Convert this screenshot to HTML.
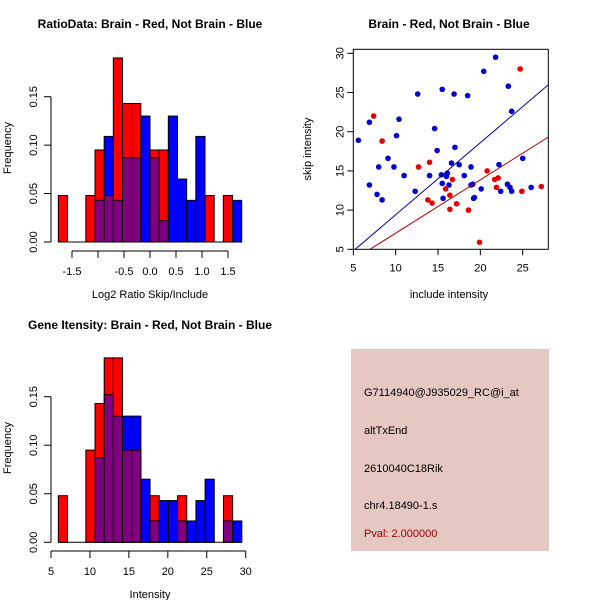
<!DOCTYPE html>
<html><head><meta charset="utf-8"><style>
body{margin:0;background:#fff}
svg{display:block;font-family:"Liberation Sans",sans-serif}
</style></head><body>
<svg id="c" width="600" height="600" viewBox="0 0 600 600">
<rect width="600" height="600" fill="#fff"/>
</svg>
<script>
// ---- Data ----
const ratioBinStart = -1.763, ratioBinWidth = 0.1763;
const ratioRed  = [0.048,0,0,0.048,0.095,0.048,0.19,0.143,0.143,0,0.095,0.095,0,0,0,0,0.048,0,0.048,0];
const ratioBlue = [0,0,0,0,0.043,0.109,0.043,0.087,0.087,0.130,0.087,0.022,0.130,0.065,0.043,0.109,0,0,0,0.043];
const ratioXTicks = [-1.5,-1.0,-0.5,0,0.5,1.0,1.5];
const ratioXLabels = ["-1.5","","-0.5","0.0","0.5","1.0","1.5"];
const freqTicks = [0,0.05,0.10,0.15];
const freqLabels = ["0.00","0.05","0.10","0.15"];

const intBinStart = 5.94, intBinWidth = 1.178;
const intRed  = [0.048,0,0,0.095,0.143,0.19,0.19,0.095,0.095,0,0.048,0,0,0.048,0,0,0,0,0.048,0];
const intBlue = [0,0,0,0,0.087,0.152,0.130,0.130,0.130,0.065,0.022,0.043,0.043,0.022,0.022,0.043,0.065,0,0.022,0.022];
const intXTicks = [5,10,15,20,25,30];

const blueX = [5.6,6.9,6.9,8.0,7.8,8.4,9.1,9.8,10.1,10.4,11.0,12.3,12.6,14.0,14.6,14.9,15.5,15.4,15.5,15.6,16.0,16.1,16.3,16.6,16.9,17.0,17.5,18.1,18.5,18.9,19.1,19.2,19.3,18.9,20.1,20.4,21.8,22.2,22.4,23.3,23.2,23.5,23.7,23.7,25.0,26.0];
const blueY = [18.9,21.2,13.2,15.5,12.0,11.3,16.6,15.5,19.5,21.6,14.4,12.4,24.8,14.4,20.4,17.6,25.4,14.5,13.4,11.5,14.3,14.7,13.2,16.0,24.8,18.0,15.8,14.4,24.6,15.5,13.3,11.5,11.6,13.2,12.7,27.7,29.5,15.8,12.4,25.8,13.3,12.9,12.4,22.6,16.6,12.9];
const redX = [7.4,8.4,12.7,14.0,13.8,14.3,15.9,16.4,16.7,16.4,17.2,18.6,19.9,20.8,21.7,22.1,21.9,24.7,24.9,27.2];
const redY = [22.0,18.8,15.5,16.1,11.3,10.9,12.7,11.9,13.9,10.1,10.8,10.0,5.9,15.0,13.9,14.1,12.9,28.0,12.4,13.0];
const blueFit = [0.2,0.92];  // intercept, slope
const redFit = [0.26,0.68];
const scatXTicks = [5,10,15,20,25];
const scatYTicks = [5,10,15,20,25,30];

// ---- Helpers ----
const NS="http://www.w3.org/2000/svg";
const svg=document.getElementById('c');
function mk(tag,attrs,parent,txt){const e=document.createElementNS(NS,tag);for(const k in attrs)e.setAttribute(k,attrs[k]);if(txt!==undefined)e.textContent=txt;(parent||svg).appendChild(e);return e;}
function lin(d0,d1,r0,r1){return v=>r0+(v-d0)*(r1-r0)/(d1-d0);}

function yAxis(g,ys,ticks,labels,x,y0,y1){
  const a=mk('line',{x1:x,x2:x,y1:ys(ticks[0]),y2:ys(ticks[ticks.length-1]),stroke:'#000'},g);
  
  ticks.forEach((t,i)=>{
    const l=mk('line',{x1:x,x2:x-7,y1:ys(t),y2:ys(t),stroke:'#000'},g);
    
    const tx=mk('text',{x:x-14,y:ys(t),'font-size':11,'text-anchor':'middle',transform:`rotate(-90 ${x-14} ${ys(t)})`},g,labels[i]);
    
  });
}
function xAxis(g,xs,ticks,labels,y){
  const a=mk('line',{x1:xs(ticks[0]),x2:xs(ticks[ticks.length-1]),y1:y,y2:y,stroke:'#000'},g);
  
  ticks.forEach((t,i)=>{
    const l=mk('line',{x1:xs(t),x2:xs(t),y1:y,y2:y+7,stroke:'#000'},g);
    
    const tx=mk('text',{x:xs(t),y:y+24,'font-size':11,'text-anchor':'middle'},g,labels[i]);
    
  });
}
function title(g,x,y,s){const t=mk('text',{x:x,y:y,'font-size':12,'font-weight':'bold','text-anchor':'middle'},g,s);}
function xlab(g,x,y,s){const t=mk('text',{x:x,y:y,'font-size':11,'text-anchor':'middle'},g,s);}
function ylab(g,x,y,s){const t=mk('text',{x:x,y:y,'font-size':11,'text-anchor':'middle',transform:`rotate(-90 ${x} ${y})`},g,s);}

function hist(name,start,width,red,blue,xs,ys){
  const g=mk('g',{});
  
  for(let i=0;i<red.length;i++){
    const x0=xs(start+i*width),x1=xs(start+(i+1)*width);
    const r=red[i],b=blue[i],mx=Math.max(r,b),mn=Math.min(r,b);
    if(mx>0){
      const e=mk('rect',{x:x0,y:ys(mx),width:x1-x0,height:ys(0)-ys(mx),fill:r>=b?'#ff0000':'#0000ff',stroke:'#000','stroke-width':1},g);
      
    }
    if(mn>0){
      const e=mk('rect',{x:x0,y:ys(mn),width:x1-x0,height:ys(0)-ys(mn),fill:'#800080',stroke:'#000','stroke-width':1},g);
      
    }
  }
  const base=mk('line',{x1:xs(start),x2:xs(start+red.length*width),y1:ys(0),y2:ys(0),stroke:'#000'},g);
  
  return g;
}

// ---- Panel 1: ratio histogram ----
{
  const xs=lin(0,1,150,202), ys=lin(0,0.15,242,96.7);
  const g=hist('ratio-histogram',ratioBinStart,ratioBinWidth,ratioRed,ratioBlue,xs,ys);
  yAxis(g,ys,freqTicks,freqLabels,51);
  xAxis(g,xs,ratioXTicks,ratioXLabels,251);
  title(g,150,28,'RatioData: Brain - Red, Not Brain - Blue');
  xlab(g,150,298,'Log2 Ratio Skip/Include');
  ylab(g,11,148,'Frequency');
}
// ---- Panel 3: intensity histogram ----
{
  const xs=lin(5,30,51,245.7), ys=lin(0,0.15,542.3,396.7);
  const g=hist('intensity-histogram',intBinStart,intBinWidth,intRed,intBlue,xs,ys);
  yAxis(g,ys,freqTicks,freqLabels,51);
  xAxis(g,xs,intXTicks,intXTicks.map(String),551);
  title(g,150,329,'Gene Itensity: Brain - Red, Not Brain - Blue');
  xlab(g,150,598,'Intensity');
  ylab(g,11,448,'Frequency');
}
// ---- Panel 2: scatter ----
{
  const g=mk('g',{});
  
  const xs=lin(5,25,353.3,522.7), ys=lin(5,30,249.3,53.3);
  const L=353.3,R=548.3,T=49.3,B=249.3;
  blueX.forEach((x,i)=>{const c=mk('circle',{cx:xs(x),cy:ys(blueY[i]),r:2.8,fill:'#0000d0'},g);
    });
  redX.forEach((x,i)=>{const c=mk('circle',{cx:xs(x),cy:ys(redY[i]),r:2.8,fill:'#e80000'},g);
    });
  const clip=mk('clipPath',{id:'sc'});mk('rect',{x:L,y:T,width:R-L,height:B-T},clip);
  const fit=(f,col,nm)=>{const x0=5,x1=28.1;const l=mk('line',{x1:xs(x0),y1:ys(f[0]+f[1]*x0),x2:xs(x1),y2:ys(f[0]+f[1]*x1),stroke:col,'clip-path':'url(#sc)'},g);
    };
  fit(blueFit,'#00008b','fit-line-blue');
  fit(redFit,'#b00000','fit-line-red');
  const box=mk('rect',{x:L,y:T,width:R-L,height:B-T,fill:'none',stroke:'#000'},g);
  
  scatXTicks.forEach(t=>{const l=mk('line',{x1:xs(t),x2:xs(t),y1:B,y2:B+6,stroke:'#000'},g);
    const tx=mk('text',{x:xs(t),y:B+22,'font-size':11,'text-anchor':'middle'},g,String(t));});
  scatYTicks.forEach(t=>{const l=mk('line',{x1:L,x2:L-6,y1:ys(t),y2:ys(t),stroke:'#000'},g);
    const tx=mk('text',{x:L-10,y:ys(t),'font-size':11,'text-anchor':'middle',transform:`rotate(-90 ${L-10} ${ys(t)})`},g,String(t));});
  title(g,449,28,'Brain - Red, Not Brain - Blue');
  xlab(g,449,298,'include intensity');
  ylab(g,311,149,'skip intensity');
}
</script>
<svg style="position:absolute;left:0;top:0" width="600" height="600">
<g font-family="Liberation Sans, sans-serif" font-size="11">
<rect x="351" y="349" width="198" height="202" fill="#e6c8c2"/>
<text x="364" y="396">G7114940@J935029_RC@i_at</text>
<text x="364" y="434">altTxEnd</text>
<text x="364" y="472">2610040C18Rik</text>
<text x="364" y="509">chr4.18490-1.s</text>
<text x="364" y="537" fill="#a00000">Pval: 2.000000</text>
</g>
</svg>
</body></html>
